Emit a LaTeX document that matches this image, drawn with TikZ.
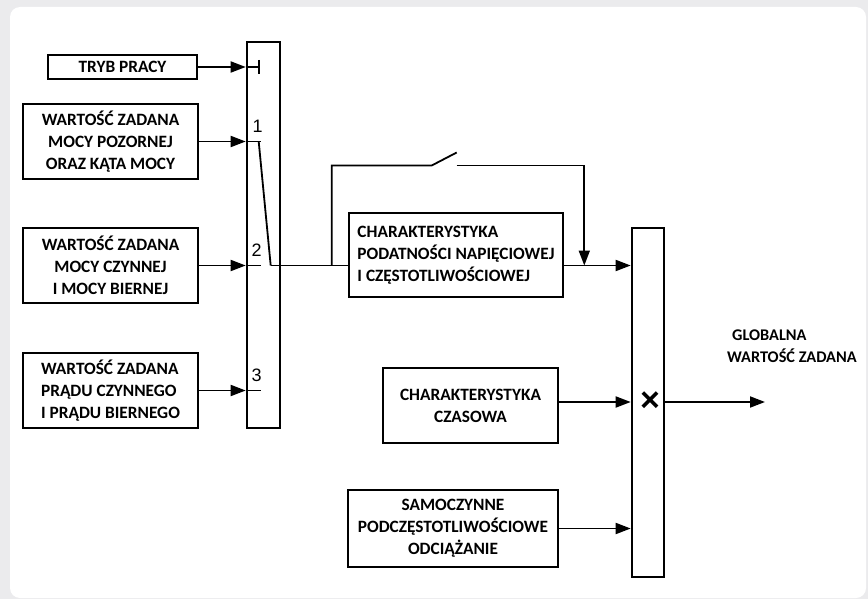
\documentclass[tikz,border=0pt]{standalone}
\usepackage{fontspec}
\setmainfont{Carlito}[BoldFont={Carlito Bold}]
\newfontfamily\cyfry{Liberation Sans}
\usetikzlibrary{arrows.meta,calc}

\definecolor{tlo}{RGB}{235,235,237}

\tikzset{
  blok/.style={draw, line width=2.6pt, font=\bfseries\fontsize{17.3}{22}\selectfont, align=center, inner sep=0pt},
  szyna/.style={draw, line width=2.6pt, inner sep=0pt},
  linia/.style={line width=1.8pt},
  strz/.style={linia, -{Triangle[length=15pt,width=11pt]}},
  cyfra/.style={font=\cyfry\fontsize{18}{18}\selectfont, inner sep=0pt},
}

\begin{document}
\begin{tikzpicture}[x=1pt,y=-1pt]
    \useasboundingbox (0,0) rectangle (868,599);
    \fill[tlo] (0,0) rectangle (868,599);
    \fill[white, rounded corners=10pt] (10,7) rectangle (866,598);   %karta

    % wejscia
    \node[blok, minimum width=149, minimum height=24] (tryb) at (122.5,67) {TRYB PRACY};
    \node[blok, minimum width=175, minimum height=75] (w1) at (110.5,141.5) {WARTOŚĆ ZADANA\\MOCY POZORNEJ\\ORAZ KĄTA MOCY};
    \node[blok, minimum width=175, minimum height=75] (w2) at (110.5,265.5) {WARTOŚĆ ZADANA\\MOCY CZYNNEJ\\I MOCY BIERNEJ};
    \node[blok, minimum width=175, minimum height=75, align=left] (w3) at (110.5,390.5) {WARTOŚĆ ZADANA\\PRĄDU CZYNNEGO\\I PRĄDU BIERNEGO};

    % przelacznik
    \node[szyna, minimum width=33, minimum height=386] (przel) at (263.5,235) {};
    \coordinate (we0) at (przel.west |- tryb.east);
    \coordinate (we1) at (przel.west |- w1.east);
    \coordinate (we2) at (przel.west |- w2.east);
    \coordinate (we3) at (przel.west |- w3.east);
    \draw[strz] (tryb.east) -- (we0);
    \draw[strz] (w1.east) -- (we1);
    \draw[strz] (w2.east) -- (we2);
    \draw[strz] (w3.east) -- (we3);
    \draw[linia] (we0) -- ++(13,0) coordinate (t0);
    \draw[linia] ($(t0)+(0,-7)$) -- ($(t0)+(0,7)$);
    \draw[linia] (we1) -- ++(15,0);
    \draw[linia] (we2) -- ++(15,0);
    \draw[linia] (we3) -- ++(15,0);
    \node[cyfra] (n1) at ($(we1)+(12,-15)$) {1};
    \node[cyfra] (n2) at ($(we2)+(11,-15)$) {2};
    \node[cyfra] (n3) at ($(we3)+(11,-15)$) {3};
    \coordinate (ramie) at ($(we2)+(25,0)$);
    \draw[linia] ($(we1)+(13,0)$) -- (ramie);

    % charakterystyki
    \node[blok, minimum width=214, minimum height=84, align=left] (char) at (456,255) {CHARAKTERYSTYKA\\PODATNOŚCI NAPIĘCIOWEJ\\I CZĘSTOTLIWOŚCIOWEJ};
    \node[blok, minimum width=175, minimum height=75] (czas) at (470.5,405.5) {CHARAKTERYSTYKA\\CZASOWA};
    \node[blok, minimum width=210, minimum height=77] (samo) at (453,528.5) {SAMOCZYNNE\\PODCZĘSTOTLIWOŚCIOWE\\ODCIĄŻANIE};

    % mnozenie
    \node[szyna, minimum width=32, minimum height=349] (mnoz) at (648,402.5) {};
    \node[font=\cyfry\bfseries\fontsize{34}{34}\selectfont, inner sep=0pt] (razy) at (650,402) {×};
    \coordinate (wyj) at (765,402);

    \draw[linia] (ramie) -- (ramie -| char.west);
    \draw[strz] (char.east |- ramie) -- (ramie -| mnoz.west);
    \coordinate (odg) at ($(ramie -| char.west)+(-16,0)$);
    \coordinate (zb) at ($(char.east |- ramie)+(20,0)$);
    \draw[linia] (odg) -- ++(0,-100) -- ++(100,0) coordinate (s1) -- ++(25,-13);  %klucz
    \draw[strz] ($(s1)+(25,0)$) -| (zb);
    \draw[strz] (czas.east |- razy) -- (razy -| mnoz.west);
    \draw[strz] (samo.east) -- (samo.east -| mnoz.west);
    \draw[strz] (razy -| mnoz.east) -- (wyj);
    \node[font=\bfseries\fontsize{16.3}{22}\selectfont, align=left, anchor=west, inner sep=0pt] (glob) at (727,346) {\hspace*{5pt}GLOBALNA\\WARTOŚĆ ZADANA};
\end{tikzpicture}
\end{document}
